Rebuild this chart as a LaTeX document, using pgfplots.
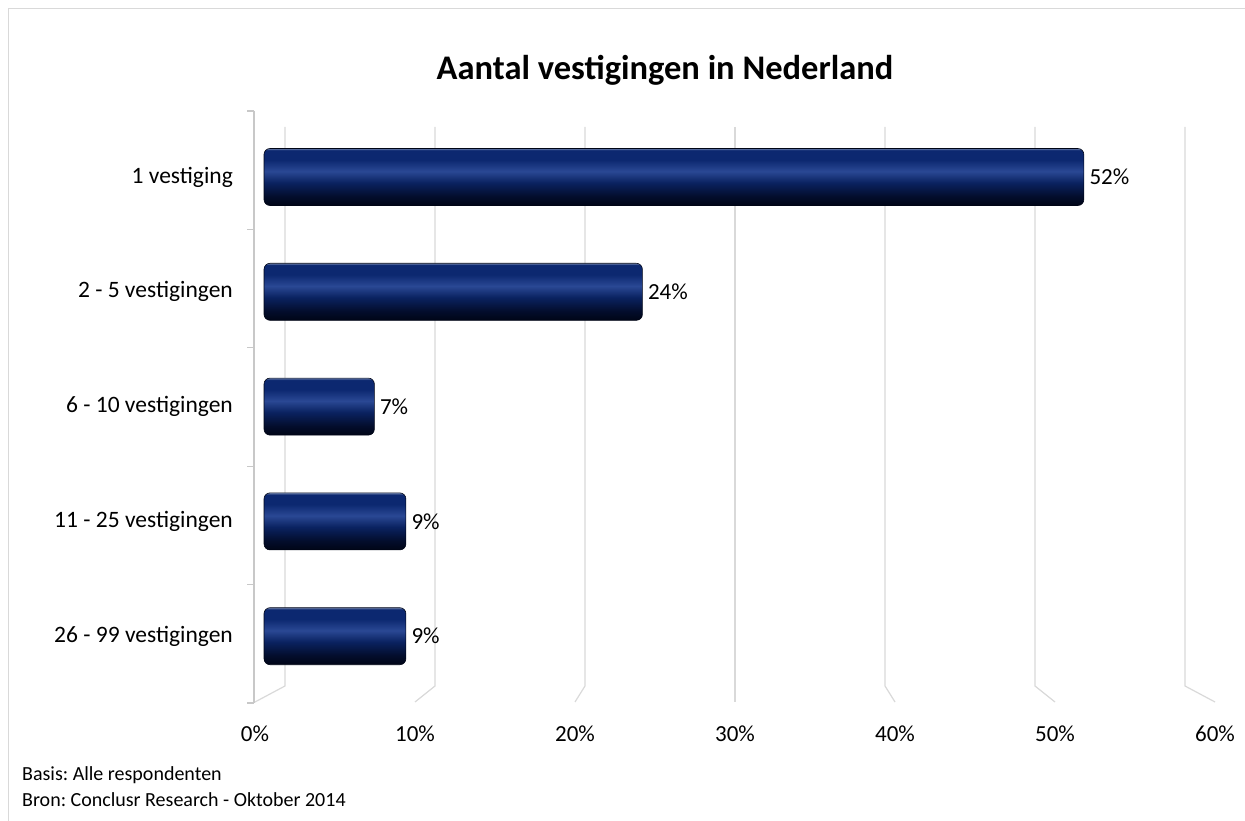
\documentclass[border=0pt]{standalone}
\usepackage{pgfplots}
\pgfplotsset{compat=1.18}
\usepackage{fontspec}
\setmainfont{Carlito}
\frenchspacing
\definecolor{gridgray}{RGB}{217,217,217}
\definecolor{axgray}{RGB}{200,200,200}
\definecolor{cnavy}{RGB}{12,40,112}
\definecolor{chi}{RGB}{42,72,148}
\definecolor{cnavytwo}{RGB}{10,34,96}
\definecolor{cdk}{RGB}{3,13,44}
\definecolor{cbot}{RGB}{0,5,22}
\definecolor{cedge}{RGB}{110,130,175}
\pgfdeclareverticalshading{cyl}{100bp}{color(0bp)=(cbot); color(25bp)=(cbot); color(33bp)=(cdk); color(45bp)=(cnavytwo); color(55bp)=(chi); color(65bp)=(cnavy); color(73.5bp)=(cnavy); color(75bp)=(cedge); color(100bp)=(cedge)}
\tikzset{cylbar/.style={draw=cbot, line width=0.6pt, shade, shading=cyl, rounded corners=6pt}}
\begin{document}
\begin{tikzpicture}[x=1pt,y=1pt]
\path[use as bounding box] (0,0) rectangle (1245,821);
\draw[gray!30, line width=1pt] (8.5,-2) -- (8.5,812.5) -- (1250,812.5);
% 3D-style grid (decoration)
\foreach \k in {0,...,6}{
  \draw[gridgray, line width=1.2pt] ({285+150*\k},{821-127}) -- ({285+150*\k},{821-686}) -- ({255+160*\k},{821-702});
}
\draw[axgray, line width=1.2pt] (254,{821-111}) -- (254,{821-703});
\foreach \k in {0,...,5}{
  \draw[axgray, line width=1.2pt] (247,{821-111-118.4*\k}) -- (254,{821-111-118.4*\k});
}
\begin{axis}[
  at={(264pt,127.4pt)}, anchor=south west,
  scale only axis, width=946pt, height=574pt,
  xmin=0, xmax=60, ymin=-0.5, ymax=4.5, y dir=reverse,
  axis line style={draw=none}, major tick length=0pt, tick style={draw=none},
  /pgf/number format/assume math mode=true,
  xtick={0,10,...,60},
  xticklabel={\pgfmathparse{2*(-9+0.2333*\tick)}\hspace*{\pgfmathresult pt}\pgfmathprintnumber{\tick}\%},
  xticklabel style={font=\fontsize{23}{27}\selectfont, anchor=center, inner sep=0pt, yshift=-40pt},
  ytick={0,...,4},
  yticklabels={1 vestiging, 2 - 5 vestigingen, 6 - 10 vestigingen, 11 - 25 vestigingen, 26 - 99 vestigingen},
  yticklabel style={font=\fontsize{23.5}{27}\selectfont, anchor=east, inner sep=0pt, xshift=-31pt},
  xbar, bar width=57pt, bar shift=0pt,
  point meta=explicit symbolic,
  nodes near coords,
  nodes near coords style={font=\fontsize{23}{27}\selectfont, anchor=west, xshift=2pt, text=black},
  clip=false,
]
\addplot[cylbar] coordinates {(52,0)[52\%]};
\addplot[cylbar] coordinates {(24,1)[24\%]};
\addplot[cylbar] coordinates {(7,2)[7\%]};
\addplot[cylbar] coordinates {(9,3)[9\%]};
\addplot[cylbar] coordinates {(9,4)[9\%]};
\end{axis}
\node[font=\fontsize{34.5}{40}\selectfont\bfseries] at (665,{821-70}) {Aantal vestigingen in Nederland};
\node[anchor=west, font=\fontsize{20}{24}\selectfont, inner sep=0pt] at (22,{821-775}) {Basis: Alle respondenten};
\node[anchor=west, font=\fontsize{20}{24}\selectfont, inner sep=0pt] at (22,{821-800}) {Bron: Conclusr Research - Oktober 2014};
\end{tikzpicture}
\end{document}
